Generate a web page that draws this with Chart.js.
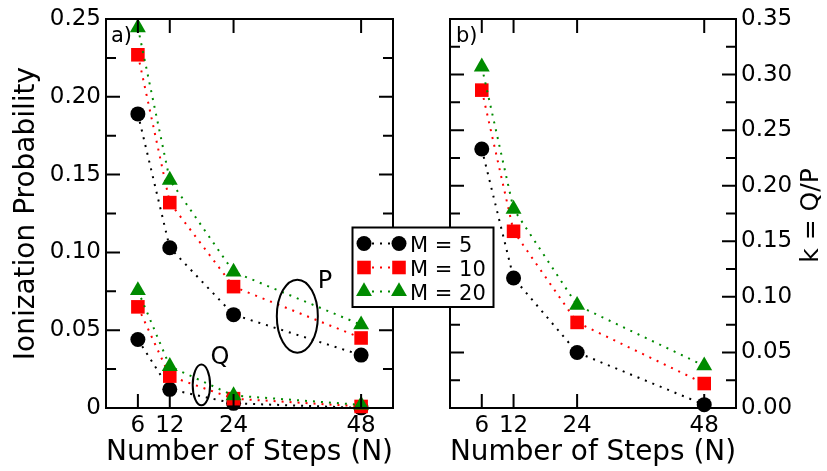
<!DOCTYPE html>
<html><head><meta charset="utf-8">
<script src="https://cdn.jsdelivr.net/npm/chart.js@4.4.1/dist/chart.umd.min.js"></script>
<style>
html,body{margin:0;padding:0;background:#fff;}
#wrap{position:relative;width:827px;height:471px;overflow:hidden;background:#fff;}
canvas{position:absolute;left:0;top:0;}
</style>
</head><body>
<div id="wrap"><canvas id="cA" width="827" height="471"></canvas><canvas id="cB" width="827" height="471"></canvas></div>
<script>
// ---------------- data ----------------
const stepsN = [6, 12, 24, 48];
const seriesLabels = ['M = 5', 'M = 10', 'M = 20'];
const probP_M5  = [0.189, 0.103, 0.060, 0.034];
const probP_M10 = [0.227, 0.132, 0.078, 0.045];
const probP_M20 = [0.2445, 0.1465, 0.0875, 0.0535];
const probQ_M5  = [0.044, 0.012, 0.003, 0.0001];
const probQ_M10 = [0.065, 0.0205, 0.006, 0.001];
const probQ_M20 = [0.0755, 0.0268, 0.008, 0.002];
const ratioK_M5  = [0.233, 0.117, 0.050, 0.003];
const ratioK_M10 = [0.286, 0.159, 0.077, 0.022];
const ratioK_M20 = [0.307, 0.179, 0.0925, 0.038];
const xTickValues = [6, 12, 24, 48];
const xTickLabels = ['6', '12', '24', '48'];
const yTickValuesLeft = [0, 0.05, 0.10, 0.15, 0.20, 0.25];
const yTickLabelsLeft = ['0', '0.05', '0.10', '0.15', '0.20', '0.25'];
const yTickValuesRight = [0, 0.05, 0.10, 0.15, 0.20, 0.25, 0.30, 0.35];
const yTickLabelsRight = ['0.00', '0.05', '0.10', '0.15', '0.20', '0.25', '0.30', '0.35'];
const xTitle = 'Number of Steps (N)';
const yTitleLeft = 'Ionization Probability';
const yTitleRight = 'k = Q/P';

// ---------------- styling ----------------
const FONT = "'DejaVu Sans', sans-serif";
const COLORS = ['#000000', '#ff0000', 'rgb(0,139,0)'];
const MARKERS = [{s: 'circle', r: 7.5}, {s: 'rect', r: 9.6}, {s: 'triangle', r: 9.2}];

function lookup(vals, labels, v) {
  const i = vals.findIndex(t => Math.abs(t - v) < 1e-9);
  return i >= 0 ? labels[i] : '';
}

function ds(values, i) {
  return {
    label: seriesLabels[i],
    data: stepsN.map((n, k) => ({x: n, y: values[k]})),
    borderColor: COLORS[i], backgroundColor: COLORS[i],
    borderWidth: 2, borderDash: [2, 6], borderCapStyle: 'butt',
    pointStyle: MARKERS[i].s, pointRadius: MARKERS[i].r, pointHoverRadius: MARKERS[i].r,
    pointBorderWidth: 0, pointBackgroundColor: COLORS[i],
    tension: 0, fill: false, clip: false, order: 2 - i
  };
}

function xScale() {
  return {
    type: 'linear', min: 0, max: 54, position: 'bottom',
    afterBuildTicks: s => { s.ticks = xTickValues.map(v => ({value: v})); },
    afterFit: s => { s.height = 63; },
    grid: {display: false, drawTicks: false}, border: {display: false},
    ticks: {padding: 4, color: '#000', autoSkip: false, maxRotation: 0,
      font: {family: FONT, size: 23}, callback: v => lookup(xTickValues, xTickLabels, v)},
    title: {display: true, text: xTitle, color: '#000', font: {family: FONT, size: 28}, padding: {top: 0, bottom: 1}}
  };
}

function drawFrame(chart, yMajor) {
  const {ctx, chartArea: a, scales: {x, y}} = chart;
  ctx.save();
  ctx.setLineDash([]);
  ctx.strokeStyle = '#000'; ctx.lineWidth = 2;
  ctx.beginPath();
  xTickValues.forEach(v => {
    const px = x.getPixelForValue(v);
    ctx.moveTo(px, a.bottom); ctx.lineTo(px, a.bottom - 14);
    ctx.moveTo(px, a.top); ctx.lineTo(px, a.top + 14);
  });
  yMajor.forEach((v, k) => {
    const py = y.getPixelForValue(v);
    ctx.moveTo(a.left, py); ctx.lineTo(a.left + 14, py);
    ctx.moveTo(a.right, py); ctx.lineTo(a.right - 14, py);
    if (k < yMajor.length - 1) {
      const pm = y.getPixelForValue((v + yMajor[k + 1]) / 2);
      ctx.moveTo(a.left, pm); ctx.lineTo(a.left + 10, pm);
      ctx.moveTo(a.right, pm); ctx.lineTo(a.right - 10, pm);
    }
  });
  ctx.stroke();
  ctx.strokeRect(a.left, a.top, a.right - a.left, a.bottom - a.top);
  ctx.restore();
}

function drawMarker(ctx, style, r, cx, cy, color) {
  ctx.fillStyle = color;
  ctx.beginPath();
  if (style === 'circle') {
    ctx.arc(cx, cy, r, 0, 2 * Math.PI);
  } else if (style === 'rect') {
    const s = Math.SQRT1_2 * r;
    ctx.rect(cx - s, cy - s, 2 * s, 2 * s);
  } else {
    for (let k = 0; k < 3; k++) {
      const ang = k * 2 * Math.PI / 3;
      const px = cx + Math.sin(ang) * r, py = cy - Math.cos(ang) * r;
      if (k === 0) ctx.moveTo(px, py); else ctx.lineTo(px, py);
    }
    ctx.closePath();
  }
  ctx.fill();
}

const leftDecor = {
  id: 'leftDecor',
  afterDatasetsDraw(chart) {
    drawFrame(chart, yTickValuesLeft);
    const {ctx, chartArea: a, scales: {x, y}} = chart;
    ctx.save();
    ctx.fillStyle = '#000'; ctx.strokeStyle = '#000'; ctx.lineWidth = 2; ctx.setLineDash([]);
    // ellipses
    [[36, 0.059, 3.86, 0.0235], [17.95, 0.0148, 1.64, 0.0131]].forEach(e => {
      const cx = x.getPixelForValue(e[0]), cy = y.getPixelForValue(e[1]);
      const rx = x.getPixelForValue(e[0] + e[2]) - cx, ry = cy - y.getPixelForValue(e[1] + e[3]);
      ctx.beginPath(); ctx.ellipse(cx, cy, rx, ry, 0, 0, 2 * Math.PI); ctx.stroke();
    });
    ctx.font = '24px ' + FONT; ctx.textAlign = 'center'; ctx.textBaseline = 'middle';
    ctx.fillText('P', x.getPixelForValue(41.2), y.getPixelForValue(0.081));
    ctx.fillText('Q', x.getPixelForValue(21.45), y.getPixelForValue(0.032));
    ctx.font = '21px ' + FONT; ctx.textAlign = 'left'; ctx.textBaseline = 'alphabetic';
    ctx.fillText('a)', a.left + 5, a.top + 23);
    ctx.restore();
  }
};

const rightDecor = {
  id: 'rightDecor',
  afterDatasetsDraw(chart) {
    drawFrame(chart, yTickValuesRight);
    const {ctx, chartArea: a} = chart;
    ctx.save();
    ctx.fillStyle = '#000';
    ctx.font = '21px ' + FONT; ctx.textAlign = 'left'; ctx.textBaseline = 'alphabetic';
    ctx.fillText('b)', a.left + 6, a.top + 23);
    // right axis title (reads bottom to top)
    ctx.save();
    ctx.translate(a.right + 75, (a.top + a.bottom) / 2 + 2);
    ctx.rotate(-Math.PI / 2);
    ctx.font = '25px ' + FONT; ctx.textAlign = 'center'; ctx.textBaseline = 'middle';
    ctx.fillText(yTitleRight, 0, 0);
    ctx.restore();
    // legend box
    ctx.fillStyle = '#fff';
    ctx.fillRect(352, 227, 142, 80);
    ctx.strokeStyle = '#000'; ctx.lineWidth = 2; ctx.setLineDash([]);
    ctx.strokeRect(352.5, 227.5, 141, 79.5);
    chart.data.datasets.forEach((d, i) => {
      const yy = 243.5 + i * 24;
      ctx.save();
      ctx.strokeStyle = d.borderColor; ctx.lineWidth = 2; ctx.setLineDash(d.borderDash);
      ctx.beginPath(); ctx.moveTo(364, yy); ctx.lineTo(399, yy); ctx.stroke();
      ctx.restore();
      drawMarker(ctx, d.pointStyle, d.pointRadius, 364, yy, d.pointBackgroundColor);
      drawMarker(ctx, d.pointStyle, d.pointRadius, 399, yy, d.pointBackgroundColor);
      ctx.fillStyle = '#000';
      ctx.font = '21px ' + FONT; ctx.textAlign = 'left'; ctx.textBaseline = 'alphabetic';
      ctx.fillText(d.label, 410, yy + 8);
    });
    ctx.restore();
  }
};

const common = {
  responsive: false, animation: false, events: [],
  plugins: {legend: {display: false}, tooltip: {enabled: false}}
};

new Chart(document.getElementById('cA'), {
  type: 'line',
  data: {datasets: [
    ds(probP_M5, 0), ds(probP_M10, 1), ds(probP_M20, 2),
    ds(probQ_M5, 0), ds(probQ_M10, 1), ds(probQ_M20, 2)
  ]},
  options: Object.assign({}, common, {
    layout: {padding: {left: 0, right: 434, top: 19, bottom: 0}},
    scales: {
      x: xScale(),
      y: {
        type: 'linear', min: 0, max: 0.25, position: 'left',
        afterBuildTicks: s => { s.ticks = yTickValuesLeft.map(v => ({value: v})); },
        afterFit: s => { s.width = 106; },
        grid: {display: false, drawTicks: false}, border: {display: false},
        ticks: {padding: 5, color: '#000', font: {family: FONT, size: 23},
          callback: v => lookup(yTickValuesLeft, yTickLabelsLeft, v)},
        title: {display: true, text: yTitleLeft, color: '#000', font: {family: FONT, size: 28}, padding: {top: 10, bottom: 0}}
      }
    }
  }),
  plugins: [leftDecor]
});

new Chart(document.getElementById('cB'), {
  type: 'line',
  data: {datasets: [ds(ratioK_M5, 0), ds(ratioK_M10, 1), ds(ratioK_M20, 2)]},
  options: Object.assign({}, common, {
    layout: {padding: {left: 450, right: 0, top: 19, bottom: 0}},
    scales: {
      x: xScale(),
      y: {
        type: 'linear', min: 0, max: 0.35, position: 'right',
        afterBuildTicks: s => { s.ticks = yTickValuesRight.map(v => ({value: v})); },
        afterFit: s => { s.width = 91; },
        grid: {display: false, drawTicks: false}, border: {display: false},
        ticks: {padding: 5, color: '#000', font: {family: FONT, size: 23},
          callback: v => lookup(yTickValuesRight, yTickLabelsRight, v)},
        title: {display: false}
      }
    }
  }),
  plugins: [rightDecor]
});
</script>
</body></html>
